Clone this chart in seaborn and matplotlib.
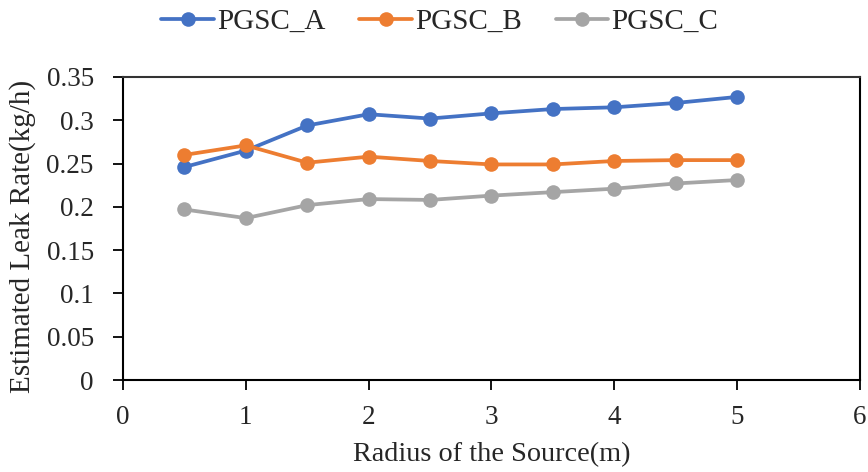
import numpy as np
import pandas as pd
import matplotlib
matplotlib.use("Agg")
import matplotlib.pyplot as plt
import seaborn as sns

radius = [0.5, 1.0, 1.5, 2.0, 2.5, 3.0, 3.5, 4.0, 4.5, 5.0]
pgsc_a = [0.246, 0.265, 0.294, 0.307, 0.302, 0.308, 0.313, 0.315, 0.320, 0.327]
pgsc_b = [0.260, 0.271, 0.251, 0.258, 0.253, 0.249, 0.249, 0.253, 0.254, 0.254]
pgsc_c = [0.197, 0.187, 0.202, 0.209, 0.208, 0.213, 0.217, 0.221, 0.227, 0.231]
series_names = ["PGSC_A", "PGSC_B", "PGSC_C"]
colors = ["#4472C4", "#ED7D31", "#A5A5A5"]
x_ticks = [0, 1, 2, 3, 4, 5, 6]
y_ticks = [0, 0.05, 0.1, 0.15, 0.2, 0.25, 0.3, 0.35]
y_tick_labels = ["0", "0.05", "0.1", "0.15", "0.2", "0.25", "0.3", "0.35"]

df = pd.DataFrame({
    "Radius": radius * 3,
    "Rate": pgsc_a + pgsc_b + pgsc_c,
    "Series": sum([[n] * len(radius) for n in series_names], []),
})

sns.set_theme(style="white")
plt.rcParams["font.family"] = ["Liberation Serif", "DejaVu Serif"]

fig = plt.figure(figsize=(8.68, 4.72), dpi=100)
ax = fig.add_axes([123 / 868, 1 - 380 / 472, (860 - 123) / 868, (380 - 77) / 472])

sns.lineplot(data=df, x="Radius", y="Rate", hue="Series", palette=colors,
             marker="o", markersize=10.5, markeredgewidth=0, linewidth=2.7,
             ax=ax, legend=True)

ax.set_xlim(0, 6)
ax.set_ylim(0, 0.35)
ax.set_xticks(x_ticks)
ax.set_xticklabels([str(t) for t in x_ticks])
ax.set_yticks(y_ticks)
ax.set_yticklabels(y_tick_labels)
ax.tick_params(axis="both", direction="out", length=7, width=1.3, color="black",
               labelsize=19.5, bottom=True, left=True)
ax.tick_params(axis="y", pad=14)
ax.tick_params(axis="x", pad=11)
for side in ["left", "bottom", "right", "top"]:
    ax.spines[side].set_visible(True)
    ax.spines[side].set_color("black")
    ax.spines[side].set_linewidth(1.5)
ax.spines["top"].set_color("#333333")

ax.set_xlabel("Radius of the Source(m)", fontsize=20.3)
ax.set_ylabel("Estimated Leak Rate(kg/h)", fontsize=21)
ax.xaxis.set_label_coords(0.5, -(442 - 380) / 303)
ax.yaxis.set_label_coords(-(123 - 36) / 737, 0.475)

handles, labels = ax.get_legend_handles_labels()
ax.get_legend().remove()
fig.legend(handles, labels, loc="center", bbox_to_anchor=(440 / 868, 1 - 22 / 472),
           ncol=3, frameon=False, fontsize=21, handlelength=1.8, handletextpad=0.12,
           columnspacing=1.15)

fig.savefig("out.png", dpi=100, facecolor="white")
